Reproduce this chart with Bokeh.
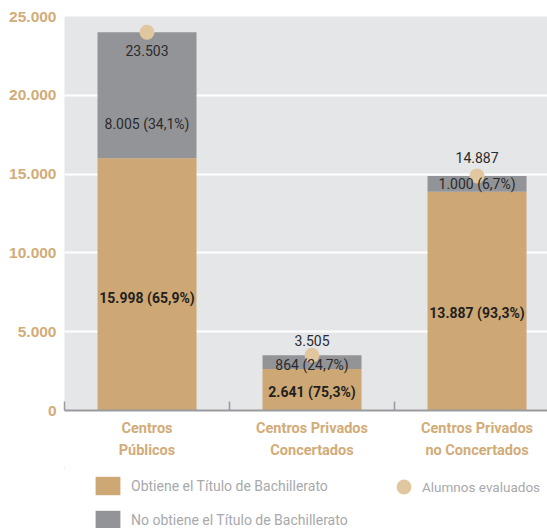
from bokeh.plotting import figure
from bokeh.layouts import column
from bokeh.models import ColumnDataSource, FixedTicker, Legend, LegendItem, Range1d
from bokeh.core.properties import value
from bokeh.embed import file_html
from bokeh.resources import INLINE

# ---- data ----
categories = ["Centros\nPúblicos", "Centros Privados\nConcertados", "Centros Privados\nno Concertados"]
obtiene = [15998, 2641, 13887]
no_obtiene = [8005, 864, 1000]
evaluados = [23503, 3505, 14887]
pct_obtiene = ["65,9%", "75,3%", "93,3%"]
pct_no_obtiene = ["34,1%", "24,7%", "6,7%"]
y_ticks = [0, 5000, 10000, 15000, 20000, 25000]
y_tick_labels = ["0", "5.000", "10.000", "15.000", "20.000", "25.000"]
legend_labels = ["Obtiene el Título de Bachillerato", "No obtiene el Título de Bachillerato", "Alumnos evaluados"]

def fmt(v):
    return f"{v:,}".replace(",", ".")

TAN = "#cda774"
GREY = "#939498"
DOT = "#e0c7a0"
AXTAN = "#d2ac78"
FONT = "Roboto"
W = 547

xs = list(range(len(categories)))
totals = [a + b for a, b in zip(obtiene, no_obtiene)]

src = ColumnDataSource(dict(x=xs, obtiene=obtiene, no_obtiene=no_obtiene, total=totals))

p = figure(width=W, height=468, output_backend="svg", toolbar_location=None,
           x_range=Range1d(-0.5, 2.427), y_range=Range1d(0, 25000),
           min_border_left=64, min_border_right=0, min_border_top=16, min_border_bottom=58)
p.background_fill_color = "#e5e6e8"
p.border_fill_color = "white"
p.outline_line_color = None

p.vbar_stack(["obtiene", "no_obtiene"], x="x", width=0.6, source=src,
             color=[TAN, GREY], line_color=None)
p.scatter(x="x", y="total", source=src, size=15, color=DOT, line_color=None)

# labels
lab_tan = ColumnDataSource(dict(x=xs, y=[v * 0.445 for v in obtiene],
                                t=[f"{fmt(v)} ({pc})" for v, pc in zip(obtiene, pct_obtiene)]))
grey_frac = [0.275, 0.25, 0.47]
lab_grey = ColumnDataSource(dict(x=xs, y=[a + b * f for a, b, f in zip(obtiene, no_obtiene, grey_frac)],
                                 t=[f"{fmt(v)} ({pc})" for v, pc in zip(no_obtiene, pct_no_obtiene)]))
lab_tot = ColumnDataSource(dict(x=xs, y=totals, t=[fmt(v) for v in evaluados], off=[18, -15, -18]))

p.text(x="x", y="y", text="t", source=lab_tan, text_align="center", text_baseline="middle",
       text_font=value(FONT), text_font_style="bold", text_font_size="14px", text_color="#231f20")
p.text(x="x", y="y", text="t", source=lab_grey, text_align="center", text_baseline="middle",
       text_font=value(FONT), text_font_size="14px", text_color="#2b2b2b")
p.text(x="x", y="y", text="t", y_offset="off", source=lab_tot, text_align="center", text_baseline="middle",
       text_font=value(FONT), text_font_size="14px", text_color="#2b2b2b")

# axes
p.xgrid.grid_line_color = None
p.ygrid.grid_line_color = "white"
p.ygrid.grid_line_width = 2
p.ygrid.ticker = FixedTicker(ticks=y_ticks)

yax = p.yaxis[0]
yax.ticker = FixedTicker(ticks=y_ticks)
yax.major_label_overrides = {t: l for t, l in zip(y_ticks, y_tick_labels)}
yax.axis_line_color = None
yax.major_tick_line_color = None
yax.major_tick_out = 0
yax.major_tick_in = 0
yax.minor_tick_line_color = None
yax.minor_tick_out = 0
yax.major_label_standoff = 8
yax.major_label_text_font = "Liberation Sans"
yax.major_label_text_font_style = "bold"
yax.major_label_text_font_size = "15.5px"
yax.major_label_text_color = AXTAN

xax = p.xaxis[0]
xax.ticker = FixedTicker(ticks=xs, minor_ticks=[-0.5, 0.5, 1.5, 2.5])
xax.major_label_overrides = {i: c for i, c in zip(xs, categories)}
xax.axis_line_color = "#9a9b9e"
xax.axis_line_width = 2
xax.major_tick_line_color = None
xax.major_tick_out = 0
xax.major_tick_in = 0
xax.minor_tick_line_color = "#9a9b9e"
xax.minor_tick_line_width = 1.5
xax.minor_tick_in = 9
xax.minor_tick_out = 0
xax.major_label_standoff = 9
xax.major_label_text_font = FONT
xax.major_label_text_font_style = "bold"
xax.major_label_text_font_size = "14.5px"
xax.major_label_text_color = AXTAN
xax.major_label_text_line_height = 1.3

# ---- legend panel (proxies use the real data, kept outside the visible range) ----
lg = figure(width=W, height=60, output_backend="svg", toolbar_location=None,
            x_range=Range1d(10, 11), y_range=Range1d(-2, -1),
            x_axis_type=None, y_axis_type=None,
            min_border_left=64, min_border_right=0, min_border_top=0, min_border_bottom=0)
lg.outline_line_color = None
lg.grid.grid_line_color = None
lg.background_fill_color = "white"
lg.border_fill_color = "white"

r_tan = lg.vbar(x="x", top="obtiene", width=0.1, source=src, color=TAN, line_color=None)
r_grey = lg.vbar(x="x", top="no_obtiene", width=0.1, source=src, color=GREY, line_color=None)
r_dot = lg.scatter(x="x", y="total", source=src, size=15, color=DOT, line_color=None)

leg1 = Legend(items=[LegendItem(label=legend_labels[0], renderers=[r_tan]),
                     LegendItem(label=legend_labels[1], renderers=[r_grey])],
              location=(28, -3), orientation="vertical", padding=0, margin=0, spacing=11,
              glyph_width=31, glyph_height=23, label_standoff=8,
              label_text_font=FONT, label_text_font_size="14px", label_text_color="#a7a9ac",
              border_line_color=None, background_fill_alpha=0)
leg2 = Legend(items=[LegendItem(label=legend_labels[2], renderers=[r_dot])],
              location=(321, 23), orientation="vertical", padding=0, margin=0,
              glyph_width=37, glyph_height=37, label_standoff=-5,
              label_text_font=FONT, label_text_font_size="13.5px", label_text_color="#a7a9ac",
              border_line_color=None, background_fill_alpha=0)
lg.add_layout(leg1, "center")
lg.add_layout(leg2, "center")

layout = column(p, lg, spacing=0)

open("out.html", "w").write(file_html(layout, INLINE))
